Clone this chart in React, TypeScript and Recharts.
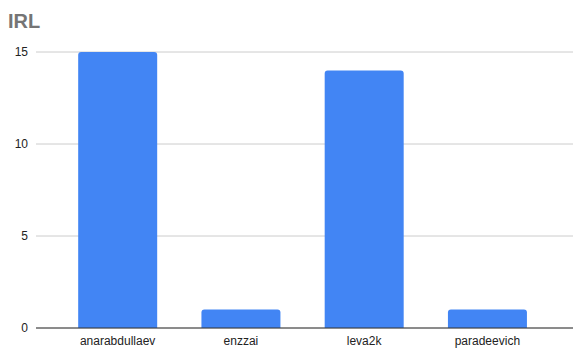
import { Bar, BarChart, CartesianGrid, XAxis, YAxis } from "recharts";

const players = ["anarabdullaev", "enzzai", "leva2k", "paradeevich"];
const irlCounts = [15, 1, 14, 1];
const yTicks = [0, 5, 10, 15];

const data = players.map((name, i) => ({ name, value: irlCounts[i] }));

const tickStyle = { fill: "#222", fontSize: 12, fontFamily: "Arial, 'Liberation Sans', sans-serif" };

export default function App() {
  return (
    <div style={{ position: "absolute", left: 0, top: 0, width: 583, height: 362, background: "#fff" }}>
      <div
        style={{
          position: "absolute",
          left: 8,
          top: 10,
          fontFamily: "Arial, 'Liberation Sans', sans-serif",
          fontWeight: 700,
          fontSize: 20,
          color: "#757575",
        }}
      >
        IRL
      </div>
      <BarChart
        width={583}
        height={362}
        data={data}
        margin={{ top: 52, right: 10, bottom: 4, left: 0 }}
        barCategoryGap="18%"
      >
        <CartesianGrid vertical={false} stroke="#cccccc" />
        <XAxis
          dataKey="name"
          tick={tickStyle}
          tickLine={false}
          axisLine={{ stroke: "#333" }}
          height={30}
          interval={0}
          padding={{ left: 20, right: 24 }}
        />
        <YAxis
          domain={[0, 15]}
          ticks={yTicks}
          tick={tickStyle}
          tickLine={false}
          axisLine={false}
          tickSize={0}
          tickMargin={8}
          width={36}
        />
        <Bar dataKey="value" fill="#4285f4" radius={[3, 3, 0, 0]} isAnimationActive={false} />
      </BarChart>
    </div>
  );
}
